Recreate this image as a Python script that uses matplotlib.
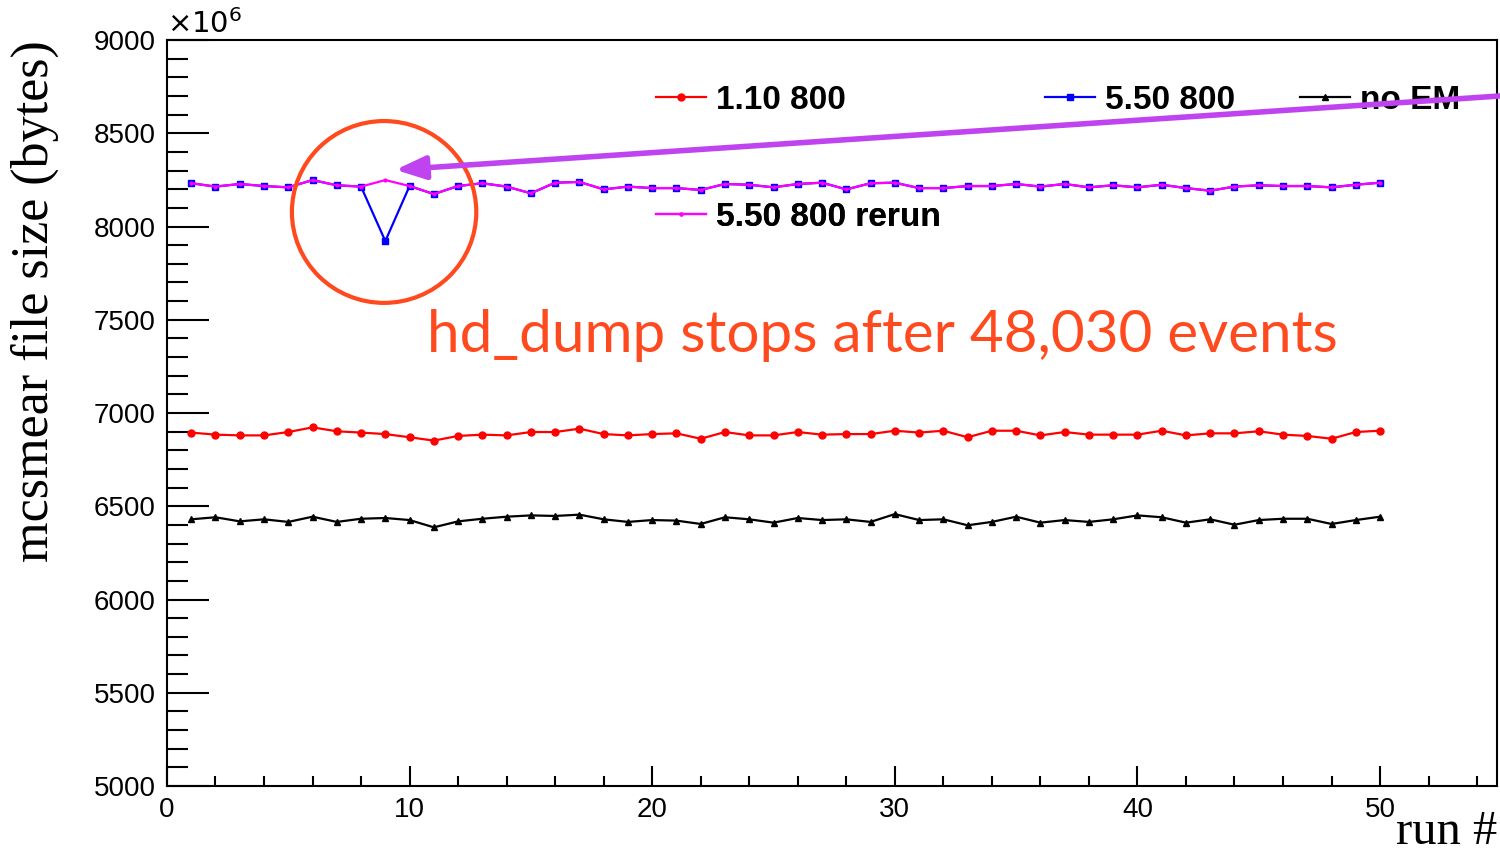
import matplotlib
matplotlib.use('Agg')
import matplotlib.pyplot as plt
from matplotlib.patches import Ellipse
from matplotlib.ticker import MultipleLocator

plt.rcParams['font.family'] = ['Liberation Sans', 'DejaVu Sans']

# file size in units of 10^6 bytes, runs 1..50
runs = list(range(1, 51))
v110_800 = [6895, 6884, 6880, 6880, 6898, 6923, 6902, 6895, 6887, 6870,
            6852, 6877, 6884, 6880, 6898, 6898, 6916, 6887, 6880, 6887,
            6891, 6862, 6898, 6880, 6880, 6898, 6884, 6887, 6887, 6905,
            6895, 6905, 6870, 6905, 6905, 6880, 6898, 6884, 6884, 6884,
            6905, 6880, 6891, 6891, 6902, 6884, 6877, 6862, 6898, 6905]
v550_800 = [8232, 8214, 8228, 8217, 8210, 8249, 8221, 8214, 7922, 8217,
            8174, 8217, 8232, 8214, 8178, 8235, 8239, 8199, 8214, 8206,
            8206, 8196, 8228, 8224, 8210, 8228, 8235, 8199, 8232, 8235,
            8206, 8206, 8217, 8217, 8228, 8214, 8228, 8210, 8221, 8210,
            8224, 8206, 8192, 8214, 8221, 8217, 8217, 8210, 8224, 8235]
v550_rerun = [8232, 8214, 8228, 8217, 8210, 8249, 8221, 8214, 8249, 8217,
              8174, 8217, 8232, 8214, 8178, 8235, 8239, 8199, 8214, 8206,
              8206, 8196, 8228, 8224, 8210, 8228, 8235, 8199, 8232, 8235,
              8206, 8206, 8217, 8217, 8228, 8214, 8228, 8210, 8221, 8210,
              8224, 8206, 8192, 8214, 8221, 8217, 8217, 8210, 8224, 8235]
v_noem = [6430, 6441, 6419, 6430, 6416, 6444, 6416, 6433, 6437, 6426,
          6387, 6419, 6433, 6444, 6451, 6448, 6455, 6430, 6416, 6426,
          6423, 6405, 6441, 6430, 6412, 6437, 6426, 6430, 6416, 6458,
          6426, 6430, 6398, 6416, 6444, 6412, 6426, 6416, 6430, 6451,
          6441, 6412, 6430, 6401, 6426, 6433, 6433, 6405, 6426, 6444]

fig = plt.figure(figsize=(15, 8.55), dpi=100)
ax = fig.add_axes([0.1113, 0.0807, 0.8867, 0.8725])

l_red, = ax.plot(runs, v110_800, color='#ff0000', lw=1.6, marker='o', ms=5)
l_blue, = ax.plot(runs, v550_800, color='#0000ff', lw=1.6, marker='s', ms=4.5)
l_mag, = ax.plot(runs, v550_rerun, color='#ff00ff', lw=1.6, marker='o', ms=2)
l_blk, = ax.plot(runs, v_noem, color='black', lw=1.6, marker='^', ms=5)

ax.set_xlim(0, 54.82)
ax.set_ylim(5000, 9000)
ax.xaxis.set_major_locator(MultipleLocator(10))
ax.xaxis.set_minor_locator(MultipleLocator(2))
ax.yaxis.set_major_locator(MultipleLocator(500))
ax.yaxis.set_minor_locator(MultipleLocator(100))
ax.tick_params(which='both', direction='in', width=1.5, labelsize=20,
               top=False, right=False)
ax.tick_params(axis='y', which='major', length=30, pad=8)
ax.tick_params(axis='y', which='minor', length=15)
ax.tick_params(axis='x', which='major', length=14.5, pad=8)
ax.tick_params(axis='x', which='minor', length=7.5)
for s in ax.spines.values():
    s.set_linewidth(1.5)

ax.set_ylabel('mcsmear file size (bytes)', family='Liberation Serif',
              fontsize=37.5, loc='top')
ax.yaxis.set_label_coords(-0.081, 1.0)
ax.set_xlabel('run #', family='Liberation Serif', fontsize=35, loc='right')
ax.xaxis.label.set_va('baseline')
ax.xaxis.set_label_coords(1.0, -0.078)
ax.text(0.0, 1.002, r'$\times10^{6}$', transform=ax.transAxes,
        fontsize=21, va='bottom', ha='left', family='DejaVu Sans')

# legend entries placed ROOT-style
entries = [(l_red, '1.10 800', 0.368, 0.919),
           (l_blue, '5.50 800', 0.660, 0.919),
           (l_blk, 'no EM', 0.852, 0.919),
           (l_mag, '5.50 800 rerun', 0.368, 0.762)]
for h, lab, lx, ly in entries:
    lg = ax.legend([h], [lab], loc='center left', bbox_to_anchor=(lx, ly),
                   frameon=False, borderpad=0, borderaxespad=0,
                   handlelength=1.5, handletextpad=0.3,
                   prop={'weight': 'bold', 'size': 24})
    ax.add_artist(lg)

# annotation
ax.add_patch(Ellipse((8.95, 8078), 7.6, 975, fill=False,
                     edgecolor='#ff4a1f', lw=3, zorder=6))
ax.text(10.72, 7327, 'hd_dump stops after 48,030 events', color='#ff4a1f',
        fontsize=42, family='Lato', va='baseline', ha='left')
ax.annotate('', xy=(9.3, 8303), xytext=(55.3, 8703),
            arrowprops=dict(arrowstyle='-|>,head_length=0.9,head_width=0.35',
                            color='#bf44f0', lw=4, mutation_scale=20),
            annotation_clip=False, zorder=7)

fig.savefig('out.png', dpi=100)
